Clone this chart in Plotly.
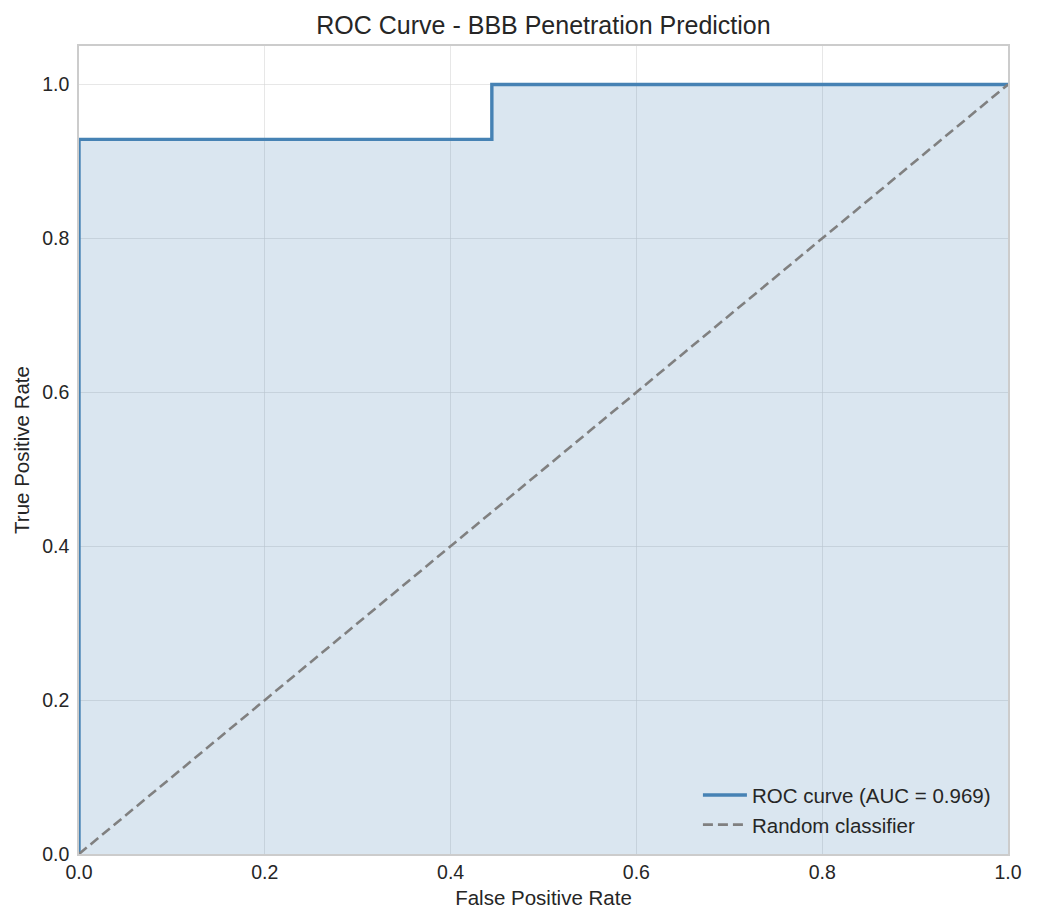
import plotly.graph_objects as go

fpr = [0.0, 0.0, 0.0, 0.4444, 0.4444, 1.0]
tpr = [0.0, 0.0714, 0.9286, 0.9286, 1.0, 1.0]
diag_x = [0.0, 1.0]
diag_y = [0.0, 1.0]
auc_label = "ROC curve (AUC = 0.969)"
x_ticks = [0.0, 0.2, 0.4, 0.6, 0.8, 1.0]
y_ticks = [0.0, 0.2, 0.4, 0.6, 0.8, 1.0]

fig = go.Figure()
# shaded area under the ROC curve (no legend entry)
fig.add_trace(go.Scatter(
    x=fpr, y=tpr, mode="none", showlegend=False, hoverinfo="skip",
    fill="tozeroy", fillcolor="rgba(70,130,180,0.2)",
))
fig.add_trace(go.Scatter(
    x=fpr, y=tpr, mode="lines", name=auc_label,
    line=dict(color="#4682b4", width=3.4, shape="linear"),
))
fig.add_trace(go.Scatter(
    x=diag_x, y=diag_y, mode="lines", name="Random classifier",
    line=dict(color="#808080", width=2.6, dash="10px,5px"),
))

font_family = "Liberation Sans, Arial, sans-serif"
fig.update_layout(
    width=1038, height=923,
    margin=dict(l=79, r=30, t=46, b=69),
    paper_bgcolor="white", plot_bgcolor="white",
    font=dict(family=font_family, size=19, color="#262626"),
    title=dict(text="ROC Curve - BBB Penetration Prediction", x=0.5, xref="paper",
               xanchor="center", y=0.973, yanchor="middle",
               font=dict(size=25, color="#262626")),
    showlegend=True,
    legend=dict(x=0.987, y=0.011, xanchor="right", yanchor="bottom",
                bgcolor="rgba(0,0,0,0)", font=dict(size=20.5, color="#262626"),
                traceorder="normal", itemwidth=44, tracegroupgap=0),
)
fig.update_xaxes(
    range=[0, 1], tickvals=x_ticks, ticktext=[f"{v:.1f}" for v in x_ticks],
    showgrid=True, gridcolor="rgba(215,215,215,0.6)", gridwidth=1,
    zeroline=False, showline=True, linecolor="#cccccc", linewidth=1.5, mirror=True,
    ticks="", ticklen=0,
    title=dict(text="False Positive Rate", font=dict(size=20.5), standoff=8),
    tickfont=dict(size=19.5),
)
fig.update_yaxes(
    range=[0, 1.05], tickvals=y_ticks, ticktext=[f"{v:.1f}" for v in y_ticks],
    showgrid=True, gridcolor="rgba(215,215,215,0.6)", gridwidth=1,
    zeroline=False, showline=True, linecolor="#cccccc", linewidth=1.5, mirror=True,
    ticks="outside", ticklen=4, tickcolor="rgba(0,0,0,0)",
    title=dict(text="True Positive Rate", font=dict(size=20.5), standoff=7),
    tickfont=dict(size=19.5),
)
fig.write_html("out.html")
